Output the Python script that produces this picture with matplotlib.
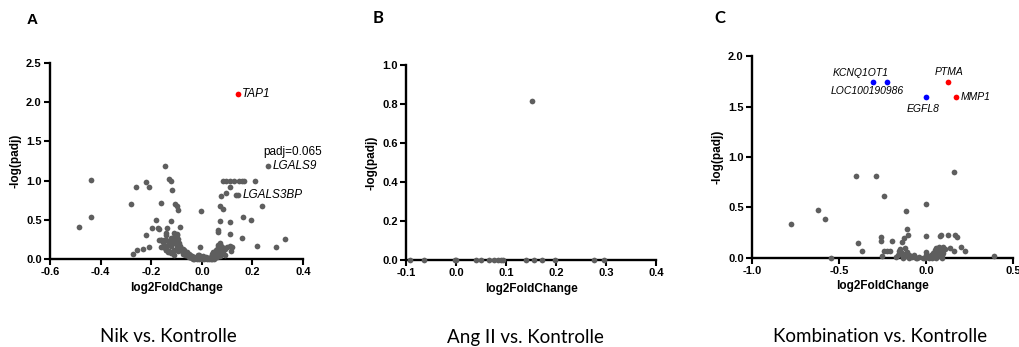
import numpy as np
import matplotlib.pyplot as plt

plt.rcParams['font.family'] = ['Liberation Sans', 'DejaVu Sans']

# ---- Panel A: Nik vs. Kontrolle (gray points) ----
a_x = [-0.486, -0.44, -0.437, -0.279, -0.26, -0.221, -0.208, -0.163, -0.147, -0.130, -0.122,
       -0.116, -0.108, -0.097, -0.093, -0.182, -0.198, -0.222, -0.209, -0.232, -0.258, -0.274,
       -0.12, -0.087, -0.173, -0.17, -0.004, -0.008,
       0.082, 0.095, 0.11, 0.126, 0.147, 0.157, 0.166, 0.212, 0.11, 0.075, 0.095,
       0.071, 0.082, 0.071, 0.11, 0.161, 0.196, 0.237, 0.064, 0.064, 0.113, 0.157,
       0.218, 0.295, 0.328, 0.134, 0.144, 0.262,
       -0.143, -0.14, -0.136, -0.17, -0.16, -0.153, -0.14,
       -0.14, -0.15, -0.13, -0.12, -0.11, -0.13, -0.12, -0.14, -0.10, -0.09, -0.10, -0.11,
       -0.09, -0.08, -0.08, -0.07, -0.075, -0.06, -0.065, -0.055, -0.05, -0.045, -0.04,
       -0.035, -0.03, -0.02, -0.01, 0.0, 0.01, 0.02, 0.025, -0.10, -0.11, -0.10, -0.095,
       -0.12, -0.13, -0.12, -0.105, -0.09, -0.085, -0.095, -0.075, -0.07, -0.06, -0.05,
       -0.045, -0.04, -0.03, -0.02, -0.01, 0.0, -0.13, -0.145, -0.12, -0.11, -0.15, -0.155,
       -0.16, -0.14, -0.16, -0.135, -0.014, -0.005, 0.005, 0.015,
       0.03, 0.035, 0.04, 0.045, 0.05, 0.055, 0.06, 0.065, 0.07, 0.075, 0.07, 0.065, 0.05,
       0.04, 0.06, 0.08, 0.09, 0.10, 0.11, 0.085, 0.075, 0.065, 0.055, 0.045, 0.035, 0.06,
       0.07, 0.08, 0.09, 0.12, 0.115, 0.04, 0.05, 0.03, -0.025, -0.015,
       -0.085, -0.075, -0.065, -0.055, -0.045, 0.045, 0.055, 0.065, 0.075, -0.11, -0.1]
a_y = [0.41, 1.01, 0.54, 0.70, 0.92, 0.98, 0.92, 0.71, 1.19, 1.02, 0.99,
       0.88, 0.70, 0.67, 0.62, 0.50, 0.40, 0.31, 0.15, 0.13, 0.12, 0.07,
       0.48, 0.41, 0.40, 0.38, 0.61, 0.15,
       0.99, 0.99, 0.99, 0.99, 0.99, 0.99, 0.99, 1.00, 0.92, 0.81, 0.84,
       0.67, 0.64, 0.48, 0.47, 0.54, 0.50, 0.67, 0.37, 0.35, 0.32, 0.27,
       0.16, 0.15, 0.25, 0.82, 0.82, 1.19,
       0.33, 0.31, 0.39, 0.24, 0.24, 0.15, 0.11,
       0.24, 0.24, 0.22, 0.21, 0.20, 0.18, 0.16, 0.15, 0.18, 0.17, 0.14, 0.12,
       0.13, 0.12, 0.10, 0.09, 0.07, 0.06, 0.05, 0.04, 0.03, 0.02, 0.01,
       0.005, 0.0, 0.0, 0.0, 0.0, 0.0, 0.0, 0.01, 0.25, 0.28, 0.30, 0.26,
       0.27, 0.20, 0.24, 0.22, 0.20, 0.15, 0.10, 0.13, 0.11, 0.09, 0.07,
       0.05, 0.04, 0.03, 0.02, 0.05, 0.03, 0.10, 0.16, 0.08, 0.05, 0.18, 0.22,
       0.24, 0.12, 0.15, 0.095, 0.055, 0.02, 0.04, 0.02,
       0.01, 0.02, 0.03, 0.05, 0.06, 0.08, 0.10, 0.12, 0.14, 0.17, 0.20, 0.15, 0.04,
       0.06, 0.07, 0.15, 0.13, 0.15, 0.16, 0.10, 0.08, 0.05, 0.03, 0.015, 0.0, 0.02,
       0.04, 0.06, 0.05, 0.15, 0.10, 0.0, 0.0, 0.0, 0.01, 0.03,
       0.16, 0.11, 0.08, 0.05, 0.03, 0.09, 0.11, 0.18, 0.12, 0.33, 0.32]
a_red_x = [0.143]
a_red_y = [2.10]

# ---- Panel B: Ang II vs. Kontrolle ----
b_x = [-0.091, -0.064, -0.002, 0.001, 0.041, 0.051, 0.067, 0.076, 0.085, 0.091, 0.095,
       0.14, 0.156, 0.171, 0.198, 0.276, 0.295, 0.151]
b_y = [0.0] * 17 + [0.813]

# ---- Panel C: Kombination vs. Kontrolle ----
c_x = [-0.776, -0.618, -0.578, -0.545, -0.405, -0.286, -0.242, -0.388, -0.365, -0.261, -0.261,
       -0.194, -0.244, -0.225, -0.205, -0.252, -0.113, -0.109, -0.106, -0.129, -0.138,
       0.0, 0.0, 0.161, 0.079, 0.088, 0.125, 0.169, 0.179, 0.14, 0.159, 0.2, 0.227, 0.39,
       -0.15, -0.14, -0.13, -0.12, -0.11, -0.1, -0.09, -0.08, -0.07, -0.06, -0.05, -0.04,
       -0.02, 0.0, 0.01, 0.02, 0.03, 0.04, 0.05, 0.06, 0.065, 0.07, 0.075, 0.08, 0.085, 0.09,
       0.095, 0.1, 0.11, -0.16, -0.12, -0.1, 0.05, 0.06, 0.07, 0.08, 0.09, 0.1, -0.005, 0.0,
       -0.17, -0.155, -0.135, 0.055, 0.045, 0.035]
c_y = [0.34, 0.48, 0.39, 0.0, 0.81, 0.81, 0.61, 0.15, 0.065, 0.21, 0.17,
       0.17, 0.065, 0.065, 0.065, 0.016, 0.47, 0.29, 0.23, 0.2, 0.16,
       0.53, 0.22, 0.85, 0.22, 0.225, 0.225, 0.23, 0.21, 0.10, 0.07, 0.105, 0.065, 0.016,
       0.09, 0.05, 0.03, 0.1, 0.06, 0.03, 0.02, 0.01, 0.03, 0.0, 0.0, 0.01,
       0.0, 0.06, 0.02, 0.0, 0.03, 0.05, 0.08, 0.1, 0.07, 0.04, 0.11, 0.09, 0.06, 0.03,
       0.11, 0.1, 0.09, 0.03, 0.02, 0.0, 0.02, 0.05, 0.08, 0.02, 0.0, 0.05, 0.0, 0.03,
       0.01, 0.07, 0.0, 0.0, 0.01, 0.0]
c_blue_x = [-0.307, -0.226, 0.0]
c_blue_y = [1.74, 1.74, 1.59]
c_red_x = [0.129, 0.170]
c_red_y = [1.74, 1.59]

gray = '#5e5e5e'
ms = 17

fig = plt.figure(figsize=(10.19, 3.47), dpi=100)
axA = fig.add_axes([0.0491, 0.2536, 0.2483, 0.5648])
axB = fig.add_axes([0.3984, 0.2507, 0.2454, 0.5620])
axC = fig.add_axes([0.7380, 0.2565, 0.2561, 0.5821])


def style(ax, xlim, ylim, xticks, yticks):
    ax.set_xlim(xlim)
    ax.set_ylim(ylim)
    ax.set_xticks(xticks)
    ax.set_yticks(yticks)
    ax.set_xticklabels([f'{t:.1f}' for t in xticks])
    ax.set_yticklabels([f'{t:.1f}' for t in yticks])
    for s in ['top', 'right']:
        ax.spines[s].set_visible(False)
    for s in ['left', 'bottom']:
        ax.spines[s].set_linewidth(1.7)
    ax.tick_params(width=1.5, length=4, labelsize=8, pad=2)
    for lab in ax.get_xticklabels() + ax.get_yticklabels():
        lab.set_fontweight('bold')
    ax.set_xlabel('log2FoldChange', fontsize=8.5, fontweight='bold', labelpad=3)
    ax.set_ylabel('-log(padj)', fontsize=8.5, fontweight='bold', labelpad=3)


# Panel A
axA.scatter(a_x, a_y, s=ms, color=gray, lw=0, clip_on=False, zorder=3)
axA.scatter(a_red_x, a_red_y, s=ms, color='red', lw=0, clip_on=False, zorder=3)
style(axA, (-0.6, 0.4), (0, 2.5), np.arange(-0.6, 0.41, 0.2), np.arange(0, 2.51, 0.5))
axA.text(0.157, 2.10, 'TAP1', fontsize=8.5, style='italic', va='center')
axA.text(0.242, 1.36, 'padj=0.065', fontsize=8.5, va='center', clip_on=False)
axA.text(0.278, 1.19, 'LGALS9', fontsize=8.5, style='italic', va='center', clip_on=False)
axA.text(0.162, 0.82, 'LGALS3BP', fontsize=8.5, style='italic', va='center')

# Panel B
axB.scatter(b_x, b_y, s=ms, color=gray, lw=0, clip_on=False, zorder=3)
style(axB, (-0.1, 0.4), (0, 1.0), np.arange(-0.1, 0.41, 0.1), np.arange(0, 1.01, 0.2))

# Panel C
axC.scatter(c_x, c_y, s=ms, color=gray, lw=0, clip_on=False, zorder=3)
axC.scatter(c_blue_x, c_blue_y, s=ms, color='#0000ff', lw=0, zorder=3)
axC.scatter(c_red_x, c_red_y, s=ms, color='red', lw=0, zorder=3)
style(axC, (-1.0, 0.5), (0, 2.0), np.arange(-1.0, 0.51, 0.5), np.arange(0, 2.01, 0.5))
axC.text(-0.374, 1.835, 'KCNQ1OT1', fontsize=7.5, style='italic', ha='center', va='center')
axC.text(-0.336, 1.654, 'LOC100190986', fontsize=7.5, style='italic', ha='center', va='center')
axC.text(0.131, 1.845, 'PTMA', fontsize=7.5, style='italic', ha='center', va='center')
axC.text(0.200, 1.59, 'MMP1', fontsize=7.5, style='italic', ha='left', va='center')
axC.text(-0.019, 1.476, 'EGFL8', fontsize=7.5, style='italic', ha='center', va='center')

# panel letters
fig.text(32 / 1019, 1 - 20 / 347, 'A', fontsize=11, fontweight='bold', ha='center', va='center')
fig.text(378 / 1019, 1 - 18 / 347, 'B', fontsize=12, fontweight='bold', ha='center', va='center',
         family=['Lato', 'Liberation Sans'])
fig.text(720 / 1019, 1 - 18 / 347, 'C', fontsize=12, fontweight='bold', ha='center', va='center',
         family=['Lato', 'Liberation Sans'])

# captions
captions = ['Nik vs. Kontrolle', 'Ang II vs. Kontrolle', 'Kombination vs. Kontrolle']
cap_x = [168, 525, 880]
for cx, cap in zip(cap_x, captions):
    fig.text(cx / 1019, 1 - 337 / 347, cap, fontsize=13.5, ha='center', va='center',
             family=['Lato', 'Liberation Sans'])

fig.savefig('out.png', dpi=100)
